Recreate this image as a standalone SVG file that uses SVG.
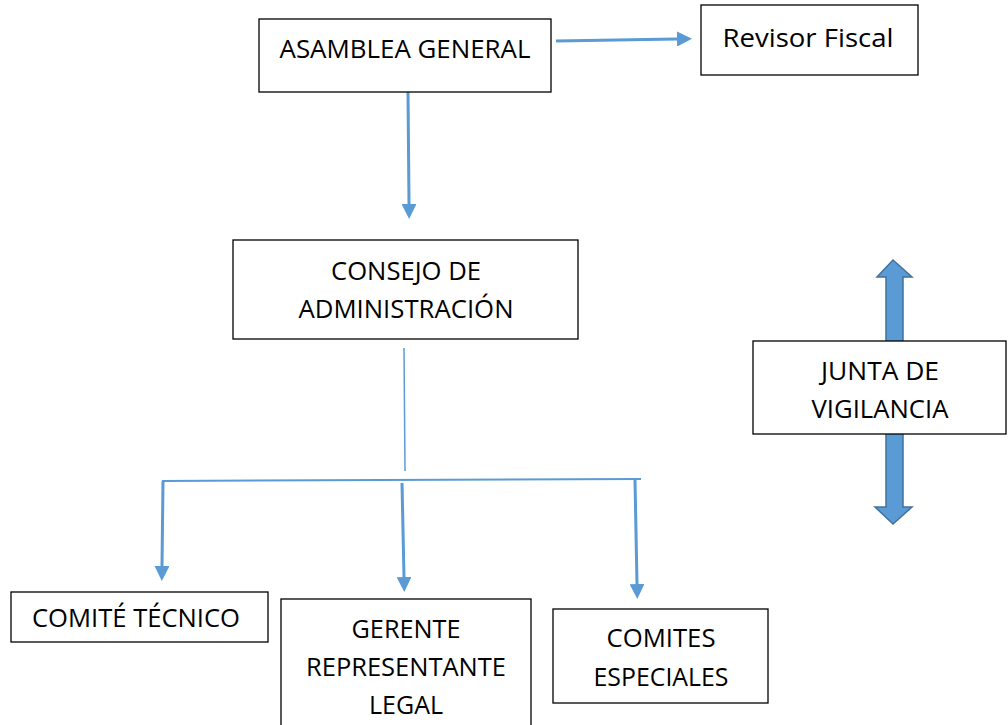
<svg xmlns="http://www.w3.org/2000/svg" width="1008" height="725" viewBox="0 0 1008 725">
<style>
.box{fill:#fff;stroke:#000;stroke-width:1.3}
.t{font-family:"Open Sans","Liberation Sans",sans-serif;font-size:26px;fill:#000;text-anchor:middle}
.c{fill:none;stroke:#5b9bd5;stroke-width:3}
</style>
<defs>
<marker id="ah" markerWidth="5" markerHeight="5" refX="0" refY="2.5" orient="auto" markerUnits="strokeWidth">
<path d="M0,0 L5,2.5 L0,5 Z" fill="#5b9bd5"/>
</marker>
</defs>
<rect width="1008" height="725" fill="#fff"/>
<g id="connectors">
<line class="c" x1="556" y1="41" x2="677" y2="39" marker-end="url(#ah)"/>
<line class="c" x1="408" y1="92" x2="409" y2="204" marker-end="url(#ah)"/>
<line class="c" style="stroke-width:1.5" x1="404" y1="348" x2="405" y2="471"/>
<line class="c" style="stroke-width:2" x1="162" y1="481" x2="641" y2="479"/>
<line class="c" x1="163" y1="481" x2="162" y2="566" marker-end="url(#ah)"/>
<line class="c" x1="402" y1="483" x2="404" y2="577" marker-end="url(#ah)"/>
<line class="c" x1="635" y1="480" x2="637" y2="584" marker-end="url(#ah)"/>
<path d="M893,260 L912,277 L903,277 L903,507 L912,507 L893,524 L875,507 L886,507 L886,277 L877,277 Z" fill="#5b9bd5" stroke="#41719c" stroke-width="1.5"/>
</g>
<g id="asamblea">
<rect class="box" x="259" y="19" width="292" height="73"/>
<text class="t" x="405" y="58" textLength="251" lengthAdjust="spacingAndGlyphs">ASAMBLEA GENERAL</text>
</g>
<g id="revisor">
<rect class="box" x="701" y="5" width="217" height="70"/>
<text class="t" x="808" y="47" textLength="171" lengthAdjust="spacingAndGlyphs">Revisor Fiscal</text>
</g>
<g id="consejo">
<rect class="box" x="233" y="240" width="345" height="99"/>
<text class="t" x="406" y="280" textLength="150" lengthAdjust="spacingAndGlyphs">CONSEJO DE</text>
<text class="t" x="406" y="318" textLength="215" lengthAdjust="spacingAndGlyphs">ADMINISTRACIÓN</text>
</g>
<g id="junta">
<rect class="box" x="753" y="341" width="253" height="93"/>
<text class="t" x="880" y="380" textLength="118" lengthAdjust="spacingAndGlyphs">JUNTA DE</text>
<text class="t" x="880" y="418" textLength="137" lengthAdjust="spacingAndGlyphs">VIGILANCIA</text>
</g>
<g id="comite-tecnico">
<rect class="box" x="11" y="592" width="257" height="50"/>
<text class="t" x="136" y="627" textLength="208" lengthAdjust="spacingAndGlyphs">COMITÉ TÉCNICO</text>
</g>
<g id="gerente">
<rect class="box" x="281" y="599" width="250" height="130"/>
<text class="t" x="406" y="638" textLength="109" lengthAdjust="spacingAndGlyphs">GERENTE</text>
<text class="t" x="406" y="676" textLength="200" lengthAdjust="spacingAndGlyphs">REPRESENTANTE</text>
<text class="t" x="406" y="714" textLength="74" lengthAdjust="spacingAndGlyphs">LEGAL</text>
</g>
<g id="comites-especiales">
<rect class="box" x="553" y="609" width="215" height="94"/>
<text class="t" x="661" y="647" textLength="109" lengthAdjust="spacingAndGlyphs">COMITES</text>
<text class="t" x="661" y="686" textLength="135" lengthAdjust="spacingAndGlyphs">ESPECIALES</text>
</g>
</svg>
